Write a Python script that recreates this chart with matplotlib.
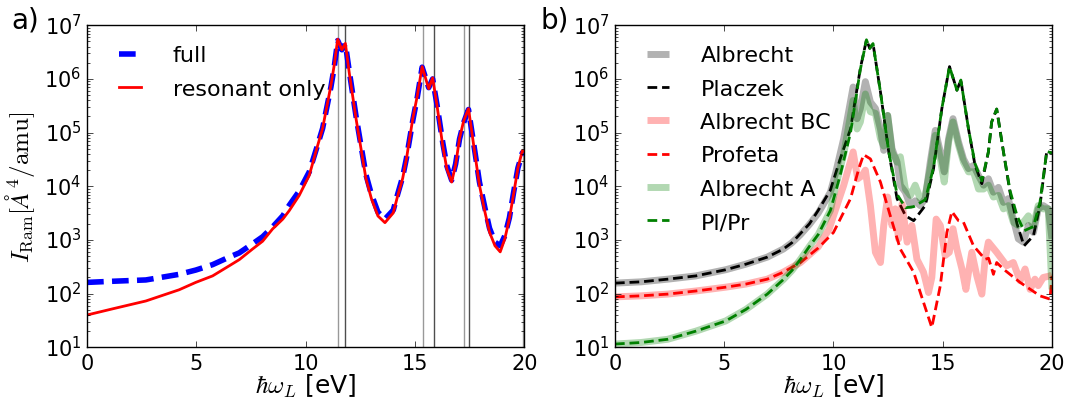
import matplotlib
matplotlib.use('Agg')
import matplotlib.pyplot as plt

# ---- panel a) ----
x_left = [0, 1.16, 2.69, 4.21, 4.97, 5.74, 6.5, 6.96, 7.57, 8.03, 8.48, 8.95, 9.24, 9.7,
          10.16, 10.5, 10.77, 11.15, 11.3, 11.46, 11.65, 11.81, 12.0, 12.3, 12.5, 12.75,
          13.0, 13.3, 13.62, 14.0, 14.2, 14.43, 14.6, 14.89, 15.1, 15.32, 15.62, 15.8, 16.0,
          16.26, 16.45, 16.67, 16.85, 17.03, 17.21, 17.44, 17.7, 17.94, 18.2, 18.4, 18.65,
          18.89, 19.1, 19.31, 19.5, 19.7, 19.9, 20]
full = [162, 170, 180, 229, 275, 347, 480, 575, 850, 1150, 1740, 2820, 4400, 8130,
        1.86e4, 5.2e4, 1.2e5, 7.1e5, 1.66e6, 5.2e6, 3.5e6, 4.5e6, 1.3e6, 2.0e5, 6.6e4, 1.66e4,
        7.1e3, 3.3e3, 2.45e3, 3.6e3, 7.1e3, 1.5e4, 3.3e4, 1.66e5, 4.6e5, 1.66e6, 6.9e5, 1.0e6,
        3.3e5, 6.6e4, 2.4e4, 1.3e4, 2.6e4, 7.6e4, 1.5e5, 2.7e5, 5.4e4, 1.2e4, 3.8e3, 1.66e3,
        910, 780, 1200, 2.6e3, 7.6e3, 2.2e4, 4.2e4, 4.0e4]
resonant = [40, 52, 73, 118, 162, 214, 330, 430, 680, 950, 1600, 2450, 3500, 6760,
            1.6e4, 5.0e4, 1.2e5, 7.6e5, 1.8e6, 5.5e6, 3.5e6, 4.6e6, 1.2e6, 1.8e5, 5.8e4, 1.4e4,
            5.9e3, 2.8e3, 2.1e3, 3.2e3, 6.6e3, 1.4e4, 3.2e4, 1.8e5, 4.9e5, 1.7e6, 6.6e5, 1.05e6,
            3.2e5, 5.8e4, 2.1e4, 1.2e4, 2.5e4, 7.8e4, 1.6e5, 2.8e5, 5.0e4, 1.05e4, 3.2e3, 1.4e3,
            780, 600, 1050, 2.5e3, 7.1e3, 2.2e4, 4.6e4, 4.4e4]
lines_light = [11.48, 15.35, 17.22, 19.93]
lines_dark = [11.79, 15.84, 17.48]

# ---- panel b) ----
x_dash = [0, 1.2, 2.41, 3.7, 5.07, 6.0, 6.97, 7.7, 8.1, 8.49, 8.9, 9.3, 9.86, 10.3, 10.78,
          11.23, 11.51, 11.66, 11.81, 12.15, 12.53, 12.91, 13.3, 13.67, 14.2, 14.58, 14.96,
          15.31, 15.65, 15.83, 16.18, 16.48, 16.79, 17.09, 17.24, 17.47, 17.78, 18.08, 18.4,
          18.72, 19.15, 19.45, 19.76, 20]
placzek = [157, 166, 186, 214, 279, 355, 479, 676, 890, 1320, 2000, 3550, 8500, 3.16e4,
           1.17e5, 1.58e6, 5.37e6, 3.72e6, 4.57e6, 5.75e5, 4.37e4, 5.89e3, 2.82e3, 2.29e3,
           4.37e3, 2.14e4, 2.82e5, 1.70e6, 6.17e5, 9.55e5, 1.17e5, 2.45e4, 1.12e4, 4.37e4,
           1.58e5, 2.75e5, 4.37e4, 7.76e3, 2.0e3, 776, 1.2e3, 4.37e3, 4.47e4, 4.17e4]
pl_pr = [11.5, 12.3, 14.1, 20, 31, 51, 98, 182, 270, 437, 760, 1260, 3550, 1.58e4, 1.0e5,
         1.51e6, 5.37e6, 3.72e6, 4.57e6, 5.75e5, 4.37e4, 7.08e3, 3.98e3, 4.17e3, 5.62e3,
         2.24e4, 2.82e5, 1.70e6, 6.17e5, 9.55e5, 1.17e5, 2.63e4, 1.26e4, 4.37e4, 1.58e5,
         2.75e5, 4.37e4, 8.32e3, 2.82e3, 1.48e3, 1.78e3, 5.01e3, 4.47e4, 4.17e4]

x_prof = [0, 1.2, 2.41, 3.7, 5.07, 6.0, 6.97, 7.7, 8.49, 9.3, 10.0, 10.78, 11.16, 11.38,
          11.69, 12.15, 12.6, 13.06, 13.67, 14.12, 14.5, 14.89, 15.19, 15.42, 15.72, 15.95,
          16.41, 16.94, 17.1, 17.32, 17.47, 17.8, 18.54, 19.45, 19.91, 20]
profeta = [87, 91, 98, 112, 132, 151, 186, 251, 380, 708, 1380, 5890, 2.14e4, 3.89e4,
           3.24e4, 1.20e4, 2.82e3, 676, 251, 69, 23.4, 141, 1380, 3390, 2290, 2140,
           776, 437, 457, 229, 380, 282, 162, 91, 79, 214]

x_bc = [0, 1.2, 2.41, 3.7, 5.07, 6.0, 6.97, 7.7, 8.49, 9.3, 9.8, 10.0, 10.47, 10.9, 11.11,
        11.31, 11.46, 11.69, 11.92, 12.15, 12.3, 12.48, 12.68, 12.83, 12.98, 13.14, 13.37,
        13.59, 13.82, 14.12, 14.35, 14.5, 14.7, 14.89, 15.11, 15.3, 15.47, 15.65, 15.88,
        16.06, 16.18, 16.33, 16.56, 16.79, 16.94, 17.09, 17.47, 17.93, 18.23, 18.54, 18.77,
        19.0, 19.22, 19.37, 19.6, 19.91, 20]
albrecht_bc = [87, 91, 98, 112, 132, 151, 186, 251, 380, 741, 1585, 2818, 1.05e4, 4.37e4,
               1.38e4, 1.58e4, 2.0e4, 4.37e3, 589, 380, 1.86e3, 6.31e3, 1.86e3, 3.8e3,
               1.05e3, 4.68e3, 912, 1.86e3, 437, 251, 105, 200, 2.45e3, 1.86e3, 513, 589,
               1.62e3, 676, 288, 120, 251, 589, 214, 98, 437, 912, 589, 331, 380, 174, 288,
               120, 186, 141, 200, 214, 224]

x_alb = [0, 1.2, 2.41, 3.7, 5.07, 6.0, 6.97, 7.7, 8.1, 8.49, 8.9, 9.3, 9.86, 10.1, 10.47,
         10.9, 11.08, 11.23, 11.46, 11.69, 11.92, 12.15, 12.3, 12.48, 12.68, 12.91, 13.06,
         13.29, 13.52, 13.74, 13.97, 14.2, 14.43, 14.66, 14.89, 15.07, 15.27, 15.47, 15.72,
         15.95, 16.18, 16.41, 16.64, 16.87, 17.09, 17.32, 17.55, 17.78, 18.0, 18.23, 18.46,
         18.69, 18.92, 19.15, 19.37, 19.6, 19.83, 20]
albrecht = [157, 166, 186, 214, 279, 355, 479, 676, 890, 1260, 1950, 3160, 7760, 1.78e4,
            7.76e4, 7.08e5, 1.82e5, 2.82e5, 8.91e5, 3.72e5, 2.82e5, 1.17e5, 4.68e4, 2.09e5,
            5.01e4, 2.82e4, 1.05e4, 7.76e3, 4.37e3, 5.37e3, 4.37e3, 5.89e3, 2.82e4, 1.10e5,
            4.37e4, 1.86e4, 7.76e4, 1.82e5, 6.76e4, 3.24e4, 2.14e4, 2.45e4, 1.58e4, 1.05e4,
            1.38e4, 7.76e3, 9.55e3, 5.01e3, 5.89e3, 2.45e3, 1.05e3, 912, 1.86e3, 1.38e3,
            3.8e3, 4.37e3, 3.8e3, 1.05e3]
albrecht_a = [11.5, 12.3, 14.1, 20, 31, 51, 98, 182, 270, 437, 760, 1260, 3550, 1.0e4,
              3.98e4, 3.98e5, 1.17e5, 1.58e5, 5.25e5, 2.45e5, 2.29e5, 7.76e4, 5.62e4, 2.09e5,
              4.37e4, 2.82e4, 3.55e4, 8.91e3, 6.76e3, 1.05e4, 5.89e3, 6.76e3, 2.14e4, 8.91e4,
              3.24e4, 1.20e4, 6.76e4, 1.58e5, 5.89e4, 2.82e4, 1.86e4, 1.86e4, 8.91e3, 8.91e3,
              1.05e4, 6.31e3, 6.76e3, 3.8e3, 4.37e3, 2.14e3, 1.86e3, 2.14e3, 2.82e3, 1.86e3,
              4.37e3, 3.8e3, 3.8e3, 120]

plt.style.use('classic')
plt.rcParams['font.family'] = ['DejaVu Sans']
plt.rcParams['mathtext.fontset'] = 'cm'
plt.rcParams['xtick.labelsize'] = 15
plt.rcParams['ytick.labelsize'] = 15

fig = plt.figure(figsize=(10.68, 4.06), dpi=100, facecolor='white')
ax1 = fig.add_axes([0.0815, 0.1421, 0.4096, 0.7931])
ax2 = fig.add_axes([0.5758, 0.1421, 0.4092, 0.7931])

for xv in lines_light:
    ax1.axvline(xv, color='0.6', lw=1)
for xv in lines_dark:
    ax1.axvline(xv, color='0.3', lw=1)
ax1.plot(x_left, full, color='b', lw=4, ls='--', dashes=(12, 6), label='full')
ax1.plot(x_left, resonant, color='r', lw=2, label='resonant only')

thick = dict(lw=5, alpha=0.3, solid_capstyle='butt')
thin = dict(lw=2, ls='--', dashes=(7, 3.5))
ax2.plot(x_alb, albrecht, color='k', label='Albrecht', **thick)
ax2.plot(x_dash, placzek, color='k', label='Placzek', **thin)
ax2.plot(x_bc, albrecht_bc, color='r', label='Albrecht BC', **thick)
ax2.plot(x_prof, profeta, color='r', label='Profeta', **thin)
ax2.plot(x_alb, albrecht_a, color='g', label='Albrecht A', **thick)
ax2.plot(x_dash, pl_pr, color='g', label='Pl/Pr', **thin)

for ax in (ax1, ax2):
    ax.set_yscale('log')
    ax.set_xlim(0, 20)
    ax.set_ylim(10, 1e7)
    ax.set_xticks([0, 5, 10, 15, 20])
    ax.set_xlabel(r'$\hbar\omega_L$ [eV]', fontsize=18, labelpad=-1)
    ax.legend(loc='upper left', bbox_to_anchor=(0.038, 0.965), borderaxespad=0,
              frameon=False, fontsize=16, handlelength=1.6, handletextpad=1.1,
              labelspacing=0.6)

ax1.set_ylabel(r'$I_{\rm Ram} [\AA^4/{\rm amu}]$', fontsize=18)

fig.text(0.011, 0.95, 'a)', fontsize=20, va='center')
fig.text(0.506, 0.95, 'b)', fontsize=20, va='center')

fig.savefig('out.png', dpi=100, facecolor='white')
